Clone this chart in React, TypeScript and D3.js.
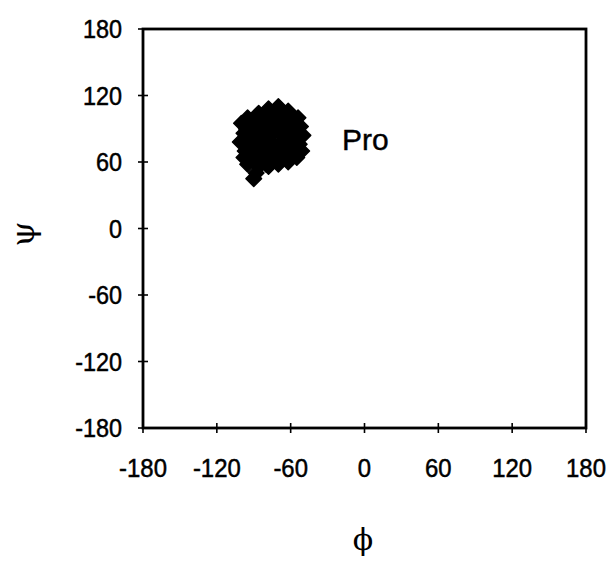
import React from "react";
import * as d3 from "d3";

const xTicks = [-180, -120, -60, 0, 60, 120, 180];
const yTicks = [-180, -120, -60, 0, 60, 120, 180];

const phiValues = [
  -100, -98, -101, -97, -95, -92, -90, -93, -89, -91,
  -86, -84, -83, -85, -82, -84, -80, -88, -90, -86,
  -78, -76, -75, -77, -74, -76, -73, -78,
  -70, -68, -67, -69, -66, -68, -65, -70,
  -62, -60, -61, -58, -60, -57, -62,
  -54, -52, -50, -53, -51, -55,
  -95, -98, -72, -80, -64, -88,
  -94, -87, -81, -73, -65, -57, -96, -79, -71, -63, -56, -82,
];
const psiValues = [
  95, 86, 78, 70, 100, 92, 84, 76, 68, 62,
  104, 96, 88, 80, 72, 64, 58, 50, 45, 56,
  108, 100, 92, 84, 76, 68, 62, 56,
  110, 102, 94, 86, 78, 70, 64, 58,
  106, 98, 90, 82, 74, 66, 60,
  100, 92, 84, 76, 70, 64,
  58, 64, 96, 90, 86, 98,
  82, 72, 66, 104, 100, 94, 90, 78, 74, 70, 88, 102,
];
const residueLabel = "Pro";
const xTitle = "ϕ";
const yTitle = "ψ";

export default function App() {
  const W = 614, H = 564;
  const left = 143, right = 586, top = 29, bottom = 428;
  const x = d3.scaleLinear().domain([-180, 180]).range([left, right]);
  const y = d3.scaleLinear().domain([-180, 180]).range([bottom, top]);
  const diamond = d3.symbol().type(d3.symbolSquare).size(120)() as string;
  const font = "'Liberation Sans', Arial, sans-serif";

  return (
    <svg width={W} height={H} style={{ position: "absolute", left: 0, top: 0, background: "#fff" }}>
      <rect x={0} y={0} width={W} height={H} fill="#fff" />
      {phiValues.map((p, i) => (
        <path key={i} d={diamond} transform={`translate(${x(p)},${y(psiValues[i])}) rotate(45)`} fill="#000" stroke="#000" strokeWidth={1.5} strokeLinejoin="round" />
      ))}
      <rect x={left} y={top} width={right - left} height={bottom - top} fill="none" stroke="#000" strokeWidth={2.8} />
      {yTicks.map((t) => (
        <g key={"y" + t}>
          <line x1={left - 5} x2={left + 5} y1={y(t)} y2={y(t)} stroke="#000" strokeWidth={1.6} />
          <text transform={`translate(${left - 21},${y(t)}) scale(0.9,1)`} dy="0.36em" textAnchor="end" fontFamily={font} fontSize={26} fill="#000" stroke="#000" strokeWidth={0.5}>{t}</text>
        </g>
      ))}
      {xTicks.map((t) => (
        <g key={"x" + t}>
          <line x1={x(t)} x2={x(t)} y1={bottom - 5} y2={bottom + 5} stroke="#000" strokeWidth={1.6} />
          <text transform={`translate(${x(t)},477) scale(0.92,1)`} textAnchor="middle" fontFamily={font} fontSize={26} fill="#000" stroke="#000" strokeWidth={0.5}>{t}</text>
        </g>
      ))}
      <text x={342} y={150} fontFamily={font} fontSize={30} fill="#000" stroke="#000" strokeWidth={0.4}>{residueLabel}</text>
      <text x={363} y={550} textAnchor="middle" fontFamily="'DejaVu Serif', serif" fontSize={30} fill="#000">{xTitle}</text>
      <text transform="translate(34,234) rotate(-90)" textAnchor="middle" fontFamily="'DejaVu Serif', serif" fontSize={32} fill="#000">{yTitle}</text>
    </svg>
  );
}
